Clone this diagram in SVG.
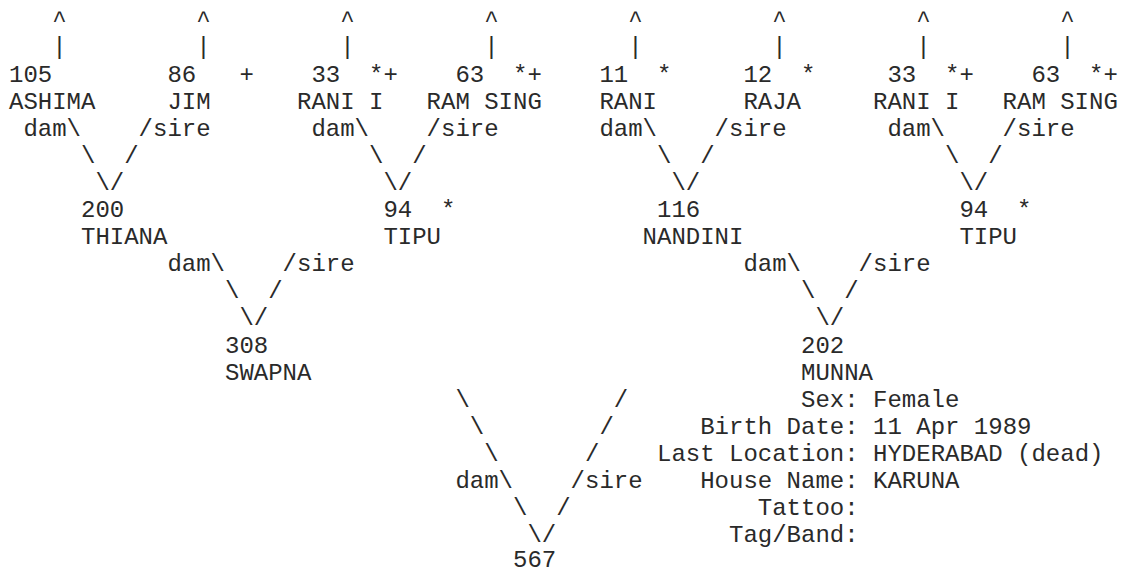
<svg xmlns="http://www.w3.org/2000/svg" width="1124" height="574" viewBox="0 0 1124 574">
<style>
text { font-family: "Liberation Mono", "Courier New", monospace; font-size: 24px; fill: #2a2a2a; white-space: pre; }
</style>
<rect width="1124" height="574" fill="#ffffff"/>
<g id="connectors">
  <text x="52.2" y="27.3">^</text><text x="196.2" y="27.3">^</text><text x="340.2" y="27.3">^</text><text x="484.2" y="27.3">^</text>
  <text x="628.2" y="27.3">^</text><text x="772.2" y="27.3">^</text><text x="916.2" y="27.3">^</text><text x="1060.2" y="27.3">^</text>
  <text x="52.2" y="54.4">|</text><text x="196.2" y="54.4">|</text><text x="340.2" y="54.4">|</text><text x="484.2" y="54.4">|</text>
  <text x="628.2" y="54.4">|</text><text x="772.2" y="54.4">|</text><text x="916.2" y="54.4">|</text><text x="1060.2" y="54.4">|</text>
  <text x="23.4" y="135.7">dam\</text><text x="138.6" y="135.7">/sire</text>
  <text x="311.4" y="135.7">dam\</text><text x="426.6" y="135.7">/sire</text>
  <text x="599.4" y="135.7">dam\</text><text x="714.6" y="135.7">/sire</text>
  <text x="887.4" y="135.7">dam\</text><text x="1002.6" y="135.7">/sire</text>
  <text x="81" y="162.8">\</text><text x="124.2" y="162.8">/</text>
  <text x="369" y="162.8">\</text><text x="412.2" y="162.8">/</text>
  <text x="657" y="162.8">\</text><text x="700.2" y="162.8">/</text>
  <text x="945" y="162.8">\</text><text x="988.2" y="162.8">/</text>
  <text x="95.4" y="189.9">\/</text><text x="383.4" y="189.9">\/</text><text x="671.4" y="189.9">\/</text><text x="959.4" y="189.9">\/</text>
  <text x="167.4" y="271.2">dam\</text><text x="282.6" y="271.2">/sire</text>
  <text x="743.4" y="271.2">dam\</text><text x="858.6" y="271.2">/sire</text>
  <text x="225" y="298.3">\</text><text x="268.2" y="298.3">/</text>
  <text x="801" y="298.3">\</text><text x="844.2" y="298.3">/</text>
  <text x="239.4" y="325.4">\/</text><text x="815.4" y="325.4">\/</text>
  <text x="455.4" y="406.7">\</text><text x="613.8" y="406.7">/</text>
  <text x="469.8" y="433.8">\</text><text x="599.4" y="433.8">/</text>
  <text x="484.2" y="460.9">\</text><text x="585" y="460.9">/</text>
  <text x="455.4" y="488">dam\</text><text x="570.6" y="488">/sire</text>
  <text x="513" y="515.1">\</text><text x="556.2" y="515.1">/</text>
  <text x="527.4" y="541.6">\/</text>
</g>
<g id="node-105"><text x="9" y="81.5">105</text><text x="9" y="108.6">ASHIMA</text></g>
<g id="node-86"><text x="167.4" y="81.5" xml:space="preserve">86   +</text><text x="167.4" y="108.6">JIM</text></g>
<g id="node-33a"><text x="311.4" y="81.5" xml:space="preserve">33  *+</text><text x="297" y="108.6">RANI I</text></g>
<g id="node-63a"><text x="455.4" y="81.5" xml:space="preserve">63  *+</text><text x="426.6" y="108.6">RAM SING</text></g>
<g id="node-11"><text x="599.4" y="81.5" xml:space="preserve">11  *</text><text x="599.4" y="108.6">RANI</text></g>
<g id="node-12"><text x="743.4" y="81.5" xml:space="preserve">12  *</text><text x="743.4" y="108.6">RAJA</text></g>
<g id="node-33b"><text x="887.4" y="81.5" xml:space="preserve">33  *+</text><text x="873" y="108.6">RANI I</text></g>
<g id="node-63b"><text x="1031.4" y="81.5" xml:space="preserve">63  *+</text><text x="1002.6" y="108.6">RAM SING</text></g>
<g id="node-200"><text x="81" y="217">200</text><text x="81" y="244.1">THIANA</text></g>
<g id="node-94a"><text x="383.4" y="217" xml:space="preserve">94  *</text><text x="383.4" y="244.1">TIPU</text></g>
<g id="node-116"><text x="657" y="217">116</text><text x="642.6" y="244.1">NANDINI</text></g>
<g id="node-94b"><text x="959.4" y="217" xml:space="preserve">94  *</text><text x="959.4" y="244.1">TIPU</text></g>
<g id="node-308"><text x="225" y="352.5">308</text><text x="225" y="379.6">SWAPNA</text></g>
<g id="node-202">
  <text x="801" y="352.5">202</text><text x="801" y="379.6">MUNNA</text>
  <text x="801" y="406.7">Sex: Female</text>
  <text x="700.2" y="433.8">Birth Date: 11 Apr 1989</text>
  <text x="657" y="460.9">Last Location: HYDERABAD (dead)</text>
  <text x="700.2" y="488">House Name: KARUNA</text>
  <text x="757.8" y="515.1">Tattoo:</text>
  <text x="729" y="541.6">Tag/Band:</text>
</g>
<g id="node-567"><text x="513" y="566.5">567</text></g>
</svg>
